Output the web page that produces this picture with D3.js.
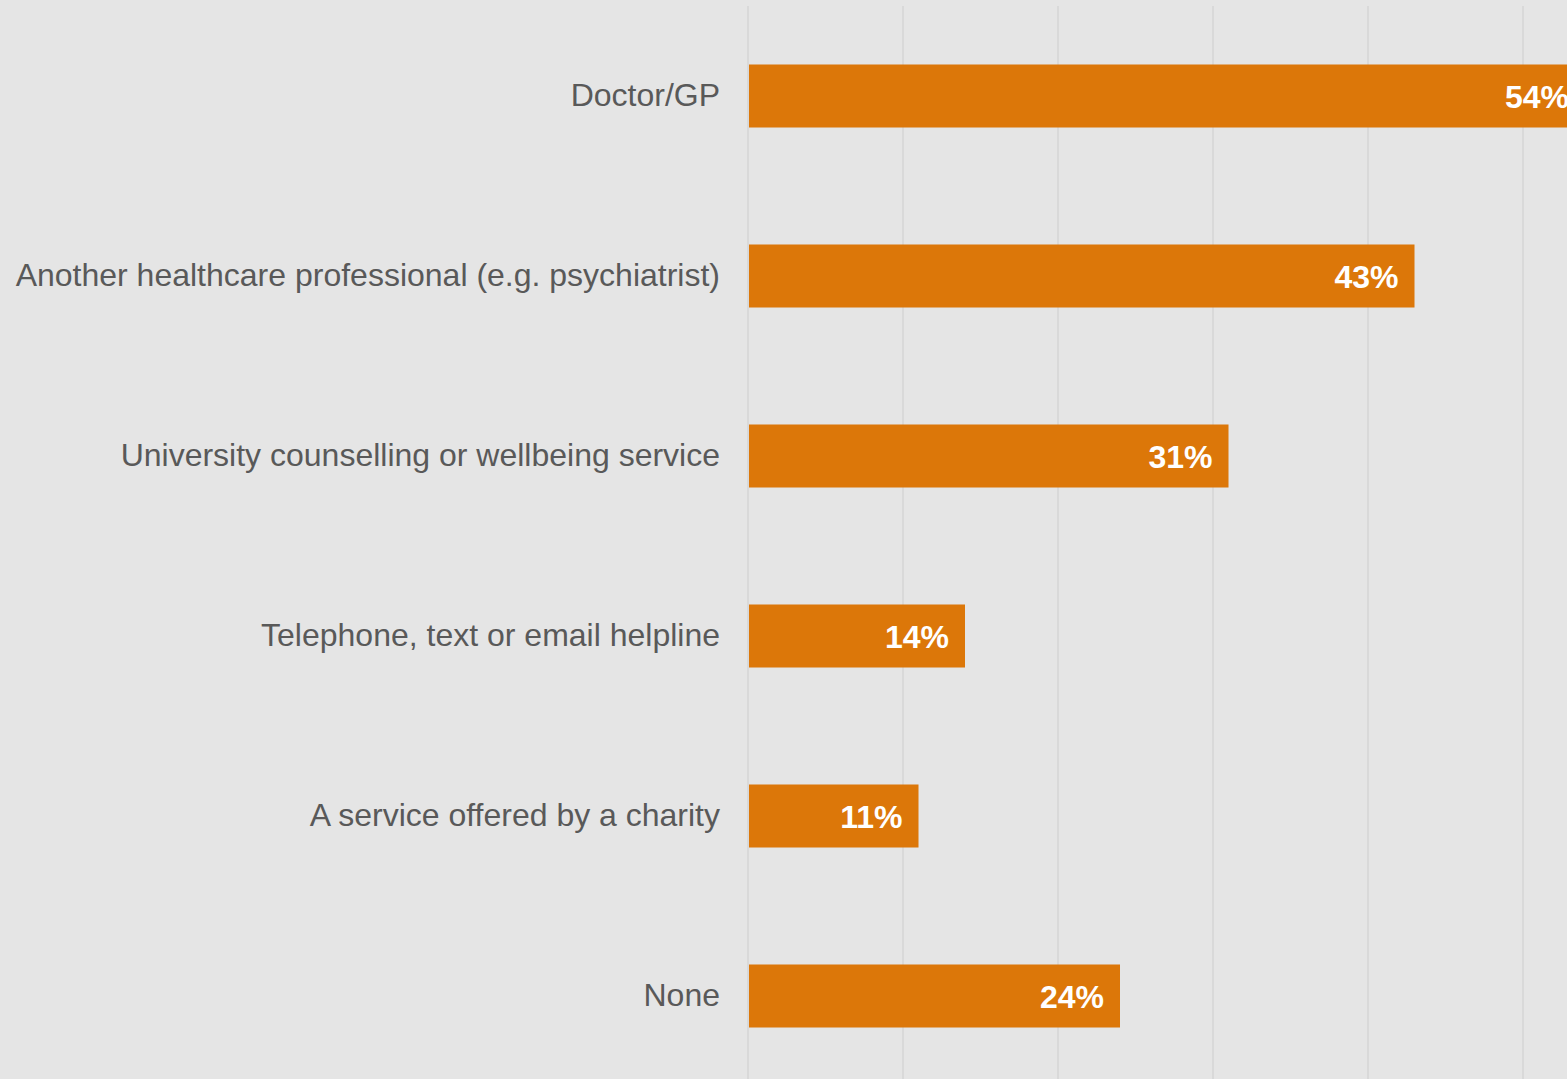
<!DOCTYPE html>
<html><head><meta charset="utf-8">
<script src="https://cdn.jsdelivr.net/npm/d3@7"></script>
<style>html,body{margin:0;padding:0;background:#e5e5e5;overflow:hidden}</style>
</head><body>
<svg id="c" width="1567" height="1079"></svg>
<script>
const categories = ["Doctor/GP","Another healthcare professional (e.g. psychiatrist)","University counselling or wellbeing service","Telephone, text or email helpline","A service offered by a charity","None"];
const values = [54,43,31,14,11,24];
const tickValues = [0,10,20,30,40,50,60];

const svg = d3.select("#c");
svg.append("rect").attr("width",1567).attr("height",1079).attr("fill","#e5e5e5");
const x = d3.scaleLinear().domain([0,60]).range([748,1678]);
const y = d3.scaleBand().domain(categories).range([6,1086]).paddingInner(0.65).paddingOuter(0.325);

svg.append("g").selectAll("line").data(tickValues).join("line")
  .attr("x1",d=>x(d)).attr("x2",d=>x(d)).attr("y1",6).attr("y2",1079)
  .attr("stroke","#d9d9d9").attr("stroke-width",2);

const data = categories.map((c,i)=>({c,v:values[i]}));
svg.append("g").selectAll("rect").data(data).join("rect")
  .attr("x",x(0)+1).attr("y",d=>y(d.c)).attr("width",d=>x(d.v)-x(0)-1).attr("height",y.bandwidth())
  .attr("fill","#dc7709");

svg.append("g").selectAll("text").data(data).join("text")
  .attr("x",d=>x(d.v)-16).attr("y",d=>y(d.c)+y.bandwidth()/2).attr("dy","0.375em")
  .attr("text-anchor","end").attr("fill","#ffffff").attr("font-weight","bold")
  .attr("font-family","Liberation Sans, Arial, sans-serif").attr("font-size",32)
  .text(d=>d.v+"%");

svg.append("g").selectAll("text").data(categories).join("text")
  .attr("x",720).attr("y",d=>y(d)+y.bandwidth()/2).attr("dy","0.31em")
  .attr("text-anchor","end").attr("fill","#595959")
  .attr("font-family","Liberation Sans, Arial, sans-serif").attr("font-size",32)
  .text(d=>d);
</script>
</body></html>
